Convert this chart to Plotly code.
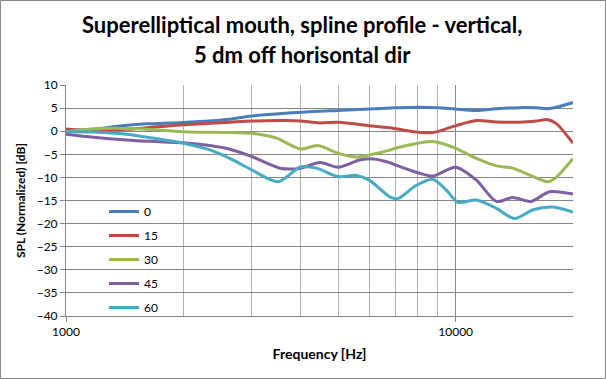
import plotly.graph_objects as go
import math

# ---- data ----
series_names = ["0", "15", "30", "45", "60"]
series_colors = ["#4A7EBB", "#BE4B48", "#98B954", "#7D60A0", "#46AAC5"]

freq_0 = [1000, 1175, 1375, 1610, 2000, 2633, 3000, 4000, 5000, 6000, 7000, 8000, 9000, 10000, 11300, 12720, 14590, 16100, 17420, 20000]
spl_0 = [0.1, 0.4, 1.15, 1.6, 1.9, 2.6, 3.3, 4.1, 4.5, 4.8, 5.05, 5.2, 5.1, 4.8, 4.5, 4.85, 5.1, 5.05, 4.9, 6.2]

freq_15 = [1000, 1175, 1431, 1742, 2000, 2633, 3000, 3680, 4000, 4480, 5000, 6000, 6770, 8000, 8740, 10000, 11300, 12720, 14590, 16100, 17250, 18100, 20000]
spl_15 = [0.5, 0.1, 0.4, 1.0, 1.4, 1.95, 2.2, 2.3, 2.2, 1.8, 1.95, 1.2, 0.75, -0.2, -0.3, 1.2, 2.3, 2.0, 1.95, 2.2, 2.5, 1.7, -2.6]

freq_30 = [1000, 1175, 1297, 1578, 2000, 2633, 3000, 3470, 4000, 4430, 5000, 5560, 6000, 6770, 7000, 8000, 8740, 10000, 11300, 12720, 14000, 15480, 17250, 18100, 20000]
spl_30 = [-0.1, 0.45, 0.65, 0.45, -0.1, -0.3, -0.45, -1.5, -3.85, -3.1, -4.8, -5.6, -5.15, -4.1, -3.7, -2.6, -2.25, -3.7, -5.9, -7.5, -8.0, -9.5, -10.95, -10.0, -5.9]

freq_45 = [1000, 1175, 1431, 1742, 2000, 2339, 2633, 3000, 3540, 4000, 4480, 5000, 5670, 6140, 6770, 7000, 8000, 8740, 10000, 11300, 12720, 14000, 15600, 17420, 20000]
spl_45 = [-0.65, -1.3, -1.9, -2.3, -2.5, -3.1, -3.9, -5.5, -8.0, -8.0, -6.8, -7.8, -6.25, -6.0, -6.8, -7.3, -9.0, -9.7, -7.8, -10.6, -15.2, -14.35, -15.2, -13.1, -13.6]

freq_60 = [1000, 1175, 1431, 1742, 2000, 2339, 2633, 3000, 3505, 4000, 4390, 5000, 5560, 6000, 6770, 7110, 7930, 8740, 9460, 10140, 11300, 12720, 14170, 15800, 17770, 20000]
spl_60 = [-0.1, -0.15, -0.65, -1.75, -2.6, -4.05, -5.9, -8.4, -10.95, -7.7, -8.0, -9.85, -9.57, -10.6, -14.2, -14.6, -11.7, -10.4, -12.75, -15.4, -14.9, -16.7, -18.9, -17.0, -16.4, -17.5]

x_tick_vals = [1000, 10000]
x_tick_text = ["1000", "10000"]
x_minor_vals = [2000, 3000, 4000, 5000, 6000, 7000, 8000, 9000, 20000]

title_line1 = "Superelliptical mouth, spline profile - vertical,"
title_line2 = "5 dm off horisontal dir"
x_title = "Frequency [Hz]"
y_title = "SPL (Normalized) [dB]"

freqs = [freq_0, freq_15, freq_30, freq_45, freq_60]
spls = [spl_0, spl_15, spl_30, spl_45, spl_60]

FONT = "Lato"
GRID = "#868686"
MINOR = "#B3B3B3"

W, H = 606, 379
L, R, T, B = 66, 33, 85, 63
pw, ph = W - L - R, H - T - B

def px2paper_x(px):
    return (px - L) / pw

def px2paper_y(py):
    return (H - B - py) / ph

fig = go.Figure()
for name, color, f, s in zip(series_names, series_colors, freqs, spls):
    fig.add_trace(go.Scatter(
        x=f, y=s, name=name, mode="lines",
        line=dict(color=color, width=3, shape="spline", smoothing=0.8),
        legendgroup=name,
    ))

fig.update_layout(
    width=W, height=H,
    margin=dict(l=L, r=R, t=T, b=B),
    paper_bgcolor="white", plot_bgcolor="white",
    font=dict(family=FONT, size=12, color="black"),
    showlegend=True,
    legend=dict(
        x=px2paper_x(104), y=px2paper_y(197), xanchor="left", yanchor="top",
        bgcolor="rgba(0,0,0,0)", font=dict(family=FONT, size=12, color="black"),
        tracegroupgap=5, itemwidth=30,
    ),
    xaxis=dict(
        type="log", range=[3, math.log10(20000)],
        tickvals=x_tick_vals, ticktext=x_tick_text,
        showgrid=True, gridcolor=GRID, gridwidth=1,
        showline=True, linecolor=GRID, linewidth=1,
        ticks="outside", ticklen=5, tickcolor=GRID,
        tickfont=dict(family=FONT, size=12, color="black"),
        minor=dict(tickvals=x_minor_vals, showgrid=True, gridcolor=MINOR, gridwidth=1, ticks=""),
        title=dict(text="<b>" + x_title + "</b>", font=dict(family=FONT, size=14, color="black"), standoff=10),
        zeroline=False,
    ),
    yaxis=dict(
        range=[-40, 10], dtick=5, tick0=0,
        showgrid=True, gridcolor=GRID, gridwidth=1,
        showline=True, linecolor=GRID, linewidth=1,
        ticks="outside", ticklen=5, tickcolor=GRID,
        tickfont=dict(family=FONT, size=12, color="black"),
        title=dict(text="<b>" + y_title + "</b>", font=dict(family=FONT, size=12, color="black"), standoff=8),
        zeroline=False,
    ),
    annotations=[
        dict(text="<b>" + title_line1 + "</b>", xref="paper", yref="paper",
             x=px2paper_x(302), y=px2paper_y(25), xanchor="center", yanchor="middle",
             showarrow=False, font=dict(family=FONT, size=22, color="black")),
        dict(text="<b>" + title_line2 + "</b>", xref="paper", yref="paper",
             x=px2paper_x(302), y=px2paper_y(55), xanchor="center", yanchor="middle",
             showarrow=False, font=dict(family=FONT, size=22, color="black")),
    ],
    shapes=[
        dict(type="rect", xref="paper", yref="paper",
             x0=px2paper_x(0.5), x1=px2paper_x(W - 0.5),
             y0=px2paper_y(H - 0.5), y1=px2paper_y(0.5),
             line=dict(color=GRID, width=1), fillcolor="rgba(0,0,0,0)", layer="below"),
    ],
)

fig.write_html("out.html", config={"displayModeBar": False, "staticPlot": True},
               post_script="document.body.style.margin='0';")
